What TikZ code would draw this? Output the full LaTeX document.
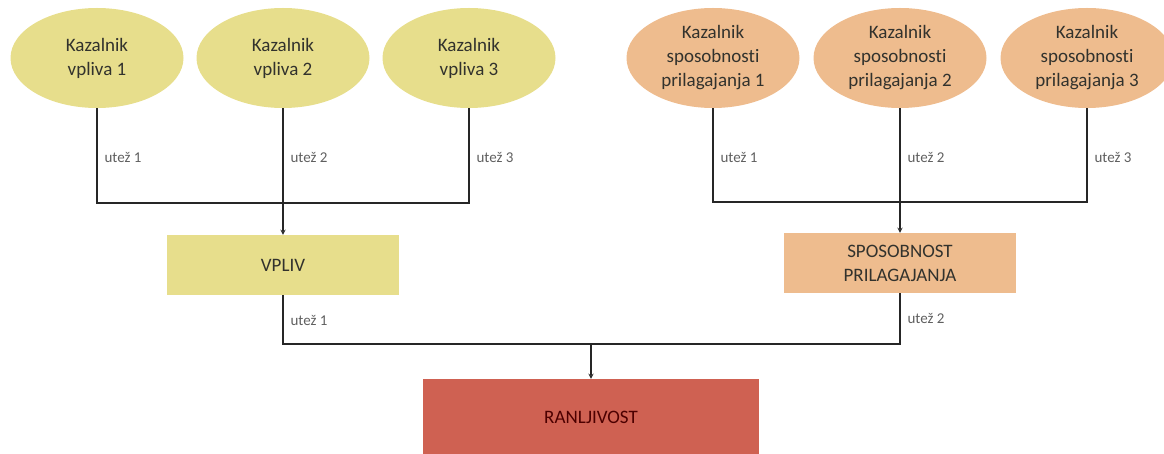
\documentclass[tikz,border=0pt]{standalone}
\usepackage{fontspec}
\setmainfont{Carlito}[Ligatures=NoCommon]
\usepackage{xcolor}
\usepackage{tikz}
\usetikzlibrary{shapes.geometric}
\definecolor{vplivfill}{RGB}{231,222,140}
\definecolor{prilfill}{RGB}{238,188,142}
\definecolor{ranfill}{RGB}{207,97,82}
\definecolor{txtgrey}{RGB}{50,50,45}
\definecolor{lblgrey}{RGB}{95,95,95}

\begin{document}
\begin{tikzpicture}[x=1pt, y=-1pt, >=stealth,
  every node/.style={font=\fontsize{19}{24}\selectfont, text=txtgrey, align=center},
  kaz/.style={ellipse, minimum width=173pt, minimum height=100pt, inner sep=0pt},
  stebox/.style={rectangle, minimum width=232pt, minimum height=60pt, inner sep=0pt},
  utez/.style={font=\fontsize{15}{18}\selectfont, text=lblgrey, anchor=west},
  link/.style={line width=1.3pt, black!85}]
  \useasboundingbox (0,0) rectangle (1164,454);
  % kazalniki vpliva
  \node[kaz, fill=vplivfill] (kv1) at (97,58) {Kazalnik\\vpliva 1};
  \node[kaz, fill=vplivfill] (kv2) at (283,58) {Kazalnik\\vpliva 2};
  \node[kaz, fill=vplivfill] (kv3) at (469,58) {Kazalnik\\vpliva 3};
  % kazalniki sposobnosti prilagajanja
  \node[kaz, fill=prilfill] (ks1) at (713,58) {Kazalnik\\sposobnosti\\prilagajanja 1};
  \node[kaz, fill=prilfill] (ks2) at (900,58) {Kazalnik\\sposobnosti\\prilagajanja 2};
  \node[kaz, fill=prilfill] (ks3) at (1087,58) {Kazalnik\\sposobnosti\\prilagajanja 3};
  % komponente
  \node[stebox, fill=vplivfill] (vpliv) at (283,265) {VPLIV};
  \node[stebox, fill=prilfill] (spos) at (900,263) {SPOSOBNOST\\PRILAGAJANJA};
  \node[rectangle, minimum width=336pt, minimum height=76pt, fill=ranfill,
        text=black!70!red] (ranlj) at (591,417) {RANLJIVOST};
  % zbirni tocki
  \coordinate (jv) at (283,203);
  \coordinate (js) at (900,202);
  \coordinate (jr) at (591,344);
  % povezave
  \draw[link] (kv1.south) |- (jv);
  \draw[link] (kv3.south) |- (jv);
  \draw[link,->] (kv2.south) -- (vpliv.north);
  \draw[link] (ks1.south) |- (js);
  \draw[link] (ks3.south) |- (js);
  \draw[link,->] (ks2.south) -- (spos.north);
  \draw[link] (vpliv.south) |- (jr);
  \draw[link] (spos.south) |- (jr);
  \draw[link,->] (jr) -- (ranlj.north);
  % utezi
  \node[utez] (uv1) at (101,157) {utež 1};
  \node[utez] (uv2) at (287,157) {utež 2};
  \node[utez] (uv3) at (473,157) {utež 3};
  \node[utez] (us1) at (717,157) {utež 1};
  \node[utez] (us2) at (904,157) {utež 2};
  \node[utez] (us3) at (1091,157) {utež 3};
  \node[utez] (ur1) at (287,320) {utež 1};
  \node[utez] (ur2) at (904,318) {utež 2};
\end{tikzpicture}
\end{document}
